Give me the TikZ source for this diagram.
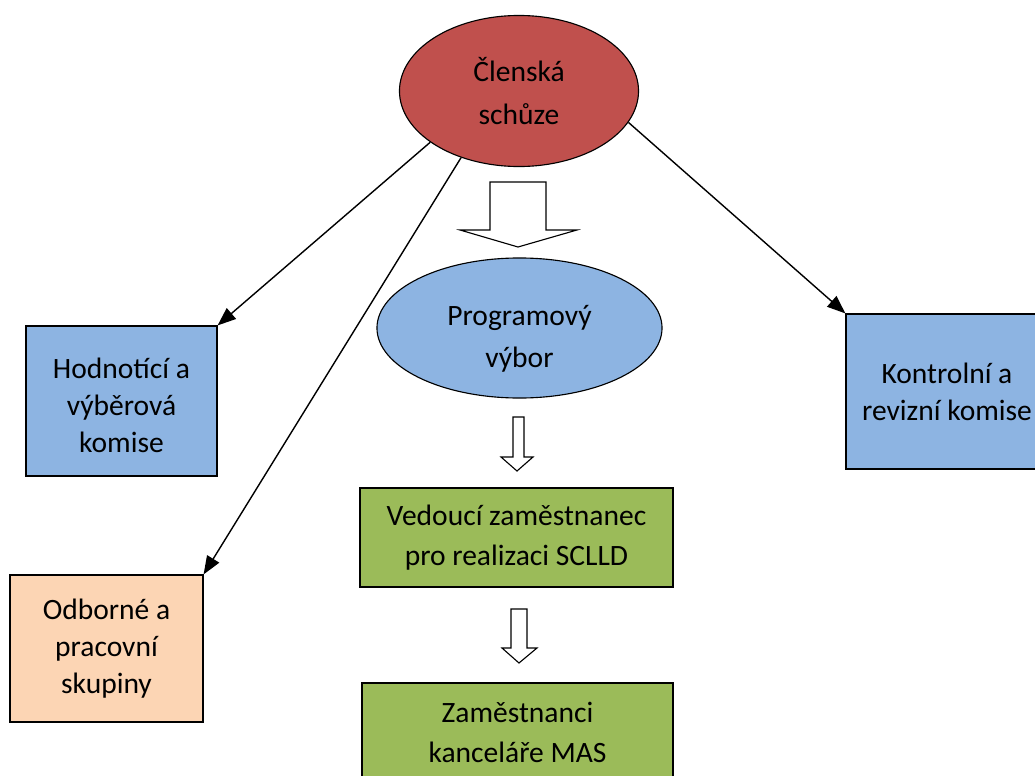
\documentclass[tikz,border=0pt]{standalone}
\usepackage{fontspec}
\setmainfont{Carlito}
\usetikzlibrary{shapes.geometric,arrows.meta}

\definecolor{schuzered}{HTML}{C0504D}
\definecolor{komiseblue}{HTML}{8DB4E2}
\definecolor{staffgreen}{HTML}{9BBB59}
\definecolor{groupsorange}{HTML}{FCD5B4}

\tikzset{
	oval/.style={ellipse,draw,line width=0.8pt,align=center,inner sep=0pt,
		font=\fontsize{21}{30}\selectfont},
	box/.style={rectangle,draw,line width=0.8pt,align=center,inner sep=0pt,
		font=\fontsize{21}{26.5}\selectfont},
	hollow/.style={draw,fill=white,line width=0.8pt,line join=miter},
	link/.style={line width=1pt,-{Triangle[length=13pt,width=10pt]}}
}

\begin{document}
\begin{tikzpicture}[x=0.025cm,y=-0.025cm]
	\useasboundingbox (0,0) rectangle (1035,776);
	\node[oval,fill=schuzered,minimum width=5.975cm,minimum height=3.775cm](schuze)at(519,91){Členská\\schůze};
	\node[oval,fill=komiseblue,minimum width=7.125cm,minimum height=3.5cm,
		text height=59.5pt](vybor)at(519.5,328){Programový\\výbor};
	\node[box,fill=komiseblue,minimum width=4.775cm,minimum height=3.75cm,
		text height=74pt](hodnotici)at(121.5,401){Hodnotící a\\výběrová\\komise};
	\node[box,fill=groupsorange,minimum width=4.825cm,minimum height=3.675cm](skupiny)at(106.5,648.5){Odborné a\\pracovní\\skupiny};
	\node[box,fill=komiseblue,minimum width=5.05cm,minimum height=3.875cm](kontrolni)at(947,391.5){Kontrolní a\\revizní komise};
	\node[box,fill=staffgreen,minimum width=7.825cm,minimum height=2.475cm,
		font=\fontsize{21}{28.5}\selectfont](vedouci)at(516.5,537.5){Vedoucí zaměstnanec\\pro realizaci SCLLD};
	\node[box,fill=staffgreen,minimum width=7.775cm,minimum height=2.475cm,
		font=\fontsize{21}{28.5}\selectfont](kancelar)at(517.5,732.5){Zaměstnanci\\kanceláře MAS};

	% arrows from the top
	\draw[link](schuze.210)--(hodnotici.north east);
	\draw[link](schuze.229)--(skupiny.north east);
	\draw[link](schuze.344)--(kontrolni.north west);

	% hollow block arrows
	\draw[hollow](490,182)--(546,182)--(546,230)--(577,230)--(518,247)--(460,230)--(490,230)--cycle;
	\draw[hollow](513,417)--(524,417)--(524,457)--(533,457)--(517,471)--(501,457)--(513,457)--cycle;
	\draw[hollow](511,609)--(527,609)--(527,648)--(537,648)--(519,663)--(502,648)--(511,648)--cycle;
\end{tikzpicture}
\end{document}
